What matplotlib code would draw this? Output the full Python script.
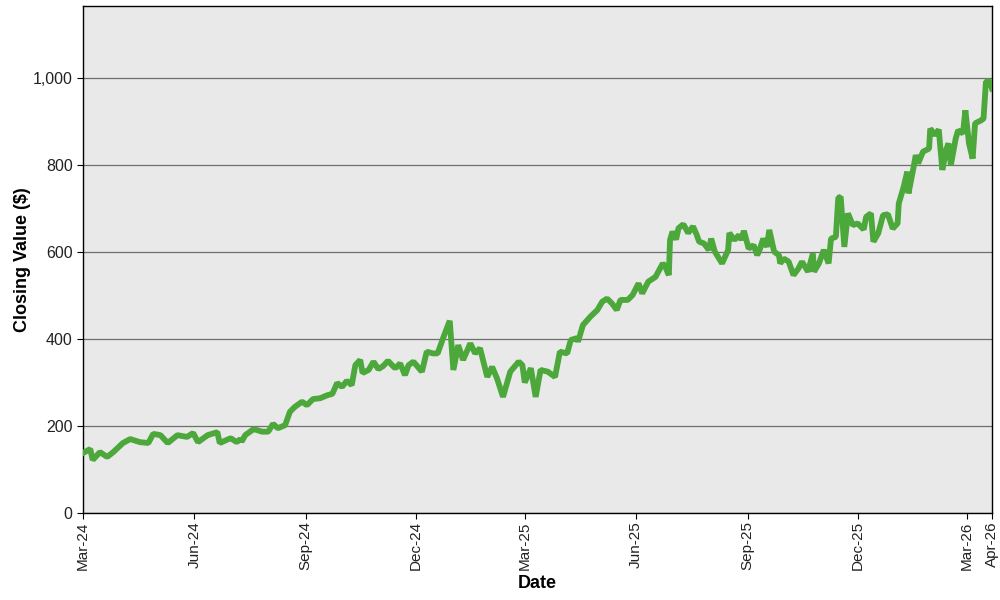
import datetime as dt
import matplotlib
matplotlib.use("Agg")
import matplotlib.pyplot as plt
import matplotlib.ticker as mticker

# data
start_date = dt.date(2024, 3, 1)
days_since_start = [
    0, 6, 8, 14, 20, 25, 33, 39, 47, 54, 58, 64, 70, 78, 86, 91, 95, 103, 111, 113,
    122, 127, 130, 131, 134, 141, 148, 153, 157, 161, 167, 171, 175, 181, 185, 190,
    196, 202, 206, 210, 214, 218, 222, 225, 229, 231, 236, 240, 244, 248, 252, 256,
    258, 262, 266, 269, 273, 280, 284, 289, 293, 298, 303, 306, 310, 314, 320, 324,
    328, 334, 338, 342, 347, 353, 360, 363, 365, 370, 374, 378, 384, 390, 394, 400,
    403, 408, 409, 413, 419, 425, 429, 433, 437, 441, 444, 450, 454, 459, 462, 467,
    473, 479, 481, 484, 485, 487, 490, 492, 496, 500, 504, 507, 509, 513, 517, 519,
    522, 528, 533, 534, 538, 542, 544, 546, 550, 554, 557, 559, 562, 565, 567, 571,
    575, 576, 579, 583, 587, 591, 594, 599, 603, 604, 608, 612, 616, 618, 622, 624,
    626, 629, 632, 636, 640, 645, 647, 651, 653, 657, 661, 665, 669, 673, 674, 678,
    681, 682, 686, 688, 690, 694, 699, 700, 704, 707, 710, 713, 715, 717, 721, 723,
    727, 729, 732, 735, 737, 742, 744, 746, 749, 751,
]
closing_values = [
    138, 147, 122, 140, 129, 140, 161, 170, 163, 161, 182, 179, 161, 179, 175, 184, 163, 179, 186, 161,
    172, 163, 170, 164, 179, 193, 187, 187, 205, 195, 202, 233, 244, 256, 248, 262,
    264, 271, 274, 299, 290, 304, 294, 340, 352, 322, 329, 348, 331, 338, 350, 338,
    333, 344, 317, 340, 348, 325, 371, 367, 367, 406, 442, 329, 386, 352, 390, 367,
    379, 313, 336, 310, 267, 325, 348, 340, 300, 333, 267, 329, 325, 313, 371, 367,
    398, 402, 394, 432, 451, 467, 486, 493, 482, 467, 490, 490, 501, 528, 505, 532,
    543, 574, 567, 547, 628, 647, 629, 655, 664, 644, 659, 640, 624, 620, 605, 631,
    601, 574, 605, 644, 628, 639, 628, 649, 608, 616, 593, 605, 631, 612, 651, 601,
    593, 574, 585, 578, 547, 562, 578, 555, 597, 555, 574, 605, 574, 631, 635, 725,
    727, 612, 689, 662, 666, 652, 681, 689, 624, 643, 685, 687, 654, 666, 712, 750,
    785, 735, 792, 823, 804, 831, 838, 884, 869, 882, 789, 834, 850, 800, 861, 880,
    873, 926, 850, 815, 896, 903, 907, 992, 994, 976,
]
tick_dates = [
    dt.date(2024, 3, 1), dt.date(2024, 6, 1), dt.date(2024, 9, 1), dt.date(2024, 12, 1),
    dt.date(2025, 3, 1), dt.date(2025, 6, 1), dt.date(2025, 9, 1), dt.date(2025, 12, 1),
    dt.date(2026, 3, 1), dt.date(2026, 3, 22),
]
tick_labels = ["Mar-24", "Jun-24", "Sep-24", "Dec-24", "Mar-25", "Jun-25",
               "Sep-25", "Dec-25", "Mar-26", "Apr-26"]

dates = [start_date + dt.timedelta(days=d) for d in days_since_start]

plt.rcParams["font.family"] = ["Liberation Sans", "DejaVu Sans"]

fig = plt.figure(figsize=(10, 6), dpi=100)
ax = fig.add_axes([0.083, 0.145, 0.909, 0.845])
ax.set_facecolor("#e9e9e9")

ax.plot(dates, closing_values, color="#4ca83a", linewidth=4.2,
        solid_joinstyle="bevel", zorder=3)

ax.set_xlim(start_date, tick_dates[-1])
ax.set_ylim(0, 1166)
ax.set_xticks(tick_dates)
ax.set_xticklabels(tick_labels, rotation=90, fontsize=11, color="#222222")
ax.set_yticks([0, 200, 400, 600, 800, 1000])
ax.yaxis.set_major_formatter(mticker.FuncFormatter(lambda v, p: f"{int(v):,}"))
ax.tick_params(axis="y", labelsize=11.5, labelcolor="#222222", length=4, color="black")
ax.tick_params(axis="x", length=4, color="black", pad=2)
ax.grid(axis="y", color="#6e6e6e", linewidth=0.9)
ax.set_axisbelow(True)
for s in ax.spines.values():
    s.set_color("black")
    s.set_linewidth(1)

ax.set_xlabel("Date", fontsize=13, fontweight="bold", labelpad=3)
ax.set_ylabel("Closing Value ($)", fontsize=13, fontweight="bold", labelpad=1)

fig.savefig("out.png", dpi=100)
